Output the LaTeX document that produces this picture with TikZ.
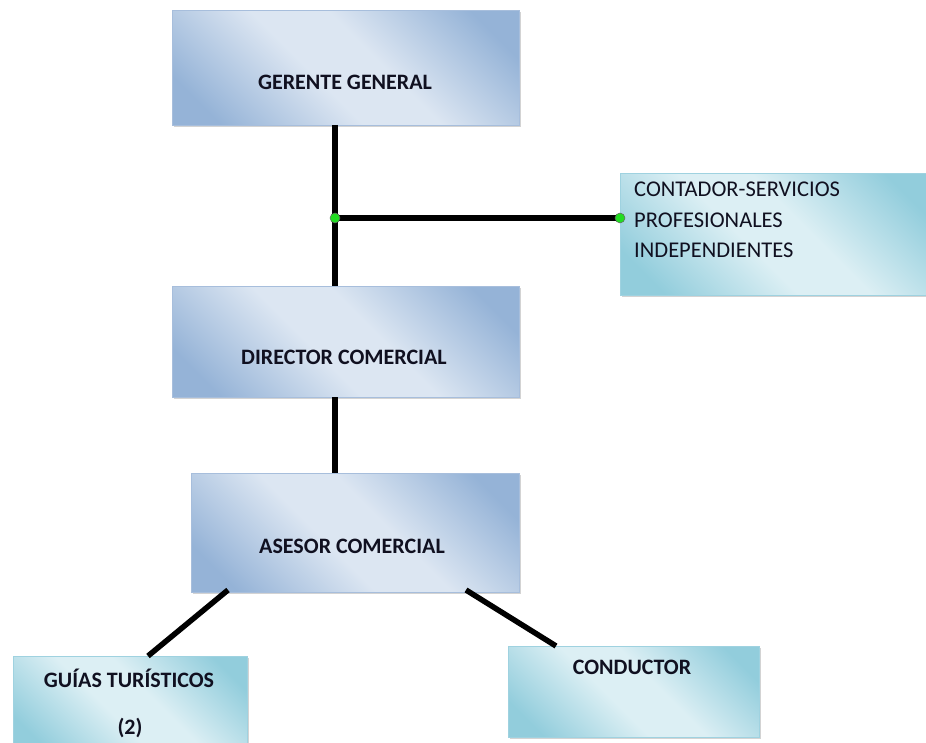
\documentclass[tikz,border=0pt]{standalone}
\usepackage{fontspec}
\setmainfont{Carlito}
\usetikzlibrary{shadows}
\definecolor{bdark}{HTML}{95B3D7}
\definecolor{blight}{HTML}{DCE6F2}
\definecolor{bedge}{HTML}{A7BEDC}
\definecolor{tdark}{HTML}{92CDDC}
\definecolor{tlight}{HTML}{DCEFF4}
\definecolor{tedge}{HTML}{9FD2E0}
\definecolor{txt}{HTML}{101020}
\definecolor{dotgreen}{HTML}{22DD22}
\pgfdeclarehorizontalshading{blueglow}{100bp}{color(0bp)=(bdark); color(22bp)=(bdark); color(44bp)=(blight); color(56bp)=(blight); color(78bp)=(bdark); color(100bp)=(bdark)}
\pgfdeclarehorizontalshading{tealglow}{100bp}{color(0bp)=(tdark); color(22bp)=(tdark); color(44bp)=(tlight); color(56bp)=(tlight); color(78bp)=(tdark); color(100bp)=(tdark)}
\tikzset{
  boxbase/.style={rectangle, inner sep=0pt, anchor=north west, line width=0.8pt,
    drop shadow={shadow xshift=1.5pt, shadow yshift=-1.5pt, opacity=0.35}},
  bluebox/.style={boxbase, draw=bedge, shading=blueglow, shading angle=45},
  tealbox/.style={boxbase, draw=tedge, shading=tealglow, shading angle=45},
  boldlabel/.style={font=\fontsize{22}{26}\selectfont\bfseries, text=txt, inner sep=0pt},
  plainlabel/.style={font=\fontsize{22.5}{30.5}\selectfont, text=txt, inner sep=0pt, align=left, anchor=north west},
  link/.style={line width=5.5pt, black},
  joint/.style={circle, fill=dotgreen, draw=black!60, line width=0.5pt, minimum size=10pt, inner sep=0pt}
}
\begin{document}
\begin{tikzpicture}[x=1pt,y=-1pt]
\useasboundingbox (0,0) rectangle (926,743);
% boxes
\node[bluebox, minimum width=347pt, minimum height=115pt] (gg) at (172,10) {};
\node[tealbox, minimum width=310pt, minimum height=122pt] (ct) at (620,173) {};
\node[bluebox, minimum width=347pt, minimum height=111pt] (dc) at (172,286) {};
\node[bluebox, minimum width=328pt, minimum height=119pt] (ac) at (191,473) {};
\node[tealbox, minimum width=234pt, minimum height=95pt] (gt) at (13,656) {};
\node[tealbox, minimum width=251pt, minimum height=91pt] (cd) at (508,646) {};
% texts
\node[boldlabel] (tgg) at (345,82) {GERENTE GENERAL};
\node[plainlabel] (tct) at (634,182) {CONTADOR-SERVICIOS\\PROFESIONALES\\INDEPENDIENTES};
\node[boldlabel] (tdc) at (344,357) {DIRECTOR COMERCIAL};
\node[boldlabel] (tac) at (352,546) {ASESOR COMERCIAL};
\node[boldlabel] (tgt) at (129,678) {GUÍAS TURÍSTICOS};
\node[boldlabel] (tgt2) at (130,728) {(2)};
\node[boldlabel] (tcd) at (632,667) {CONDUCTOR};
% connectors
\coordinate (j) at (335,218);
\coordinate (ggb) at (335,125);
\coordinate (dct) at (335,286);
\coordinate (dcb) at (335,397);
\coordinate (act) at (335,473);
\coordinate (acl) at (228,590);
\coordinate (acr) at (466,590);
\coordinate (gtt) at (148,656);
\coordinate (cdt) at (556,646);
\coordinate (ctl) at (620,218);
\draw[link] (ggb) -- (dct);
\draw[link] (j) -- (ctl);
\draw[link] (dcb) -- (act);
\draw[link] (acl) -- (gtt);
\draw[link] (acr) -- (cdt);
\node[joint] (j1) at (j) {};
\node[joint] (j2) at (ctl) {};
\end{tikzpicture}
\end{document}
